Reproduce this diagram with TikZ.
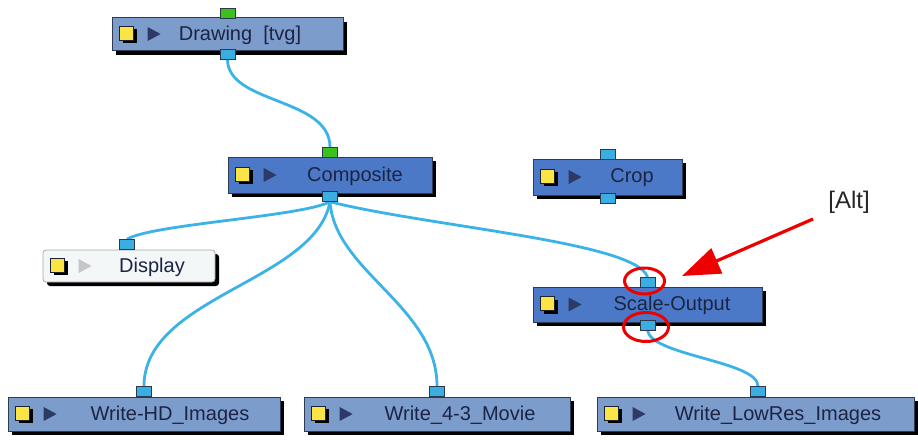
\documentclass[tikz,border=0pt]{standalone}
\usepackage{fontspec}
\setmainfont{Liberation Sans}
\usetikzlibrary{arrows.meta,shadows,calc,shapes.geometric,backgrounds}
\definecolor{lightbox}{HTML}{7C9CCC}
\definecolor{darkbox}{HTML}{4B79C7}
\definecolor{dispbox}{HTML}{F3F7F7}
\definecolor{boxline}{HTML}{2F3B55}
\definecolor{portblue}{HTML}{3AAEE2}
\definecolor{portgreen}{HTML}{3CC01E}
\definecolor{portline}{HTML}{2B3A4A}
\definecolor{wire}{HTML}{3BB3E6}
\definecolor{txt}{HTML}{1C2444}
\definecolor{tri}{HTML}{2E3A66}
\definecolor{yel}{HTML}{FBE446}
\definecolor{alert}{HTML}{EE0000}
\tikzset{
  nodebox/.style={draw=boxline, line width=0.8pt, inner sep=0pt,
    general shadow={fill=black, shadow xshift=4pt, shadow yshift=-4pt}},
  lightfill/.style={fill=lightbox},
  darkfill/.style={fill=darkbox},
  dispfill/.style={fill=dispbox, draw=gray!70, rounded corners=3pt},
  iconsq/.style={draw=boxline!60!black, fill=yel, line width=0.5pt, minimum size=14pt, inner sep=0pt,
    general shadow={fill=black, shadow xshift=3pt, shadow yshift=-3pt}},
  lbl/.style={text=txt, font=\fontsize{20}{24}\selectfont, inner sep=0pt},
  port/.style={draw=portline, fill=portblue, line width=0.8pt, minimum width=15pt, minimum height=10pt, inner sep=0pt},
  gport/.style={port, fill=portgreen},
  wireline/.style={draw=wire, line width=2.8pt},
  ring/.style={draw=alert, line width=3pt, ellipse, inner sep=0pt},
}
% name, cx, cy, w, h, fill style, text x, text, triangle colour
\newcommand\NetNode[9]{%
  \node[nodebox,#6,minimum width=#4pt,minimum height=#5pt] (#1) at (#2,#3) {};
  \node[iconsq] (#1-ic) at ($(#1.west)+(15,-1)$) {};
  \fill[#9] ($(#1.west)+(36,-7)$) -- ($(#1.west)+(36,7)$) -- ($(#1.west)+(49,0)$) -- cycle;
  \node[lbl] (#1-t) at (#7,#3+1) {#8};
}
\begin{document}
\begin{tikzpicture}[x=1pt,y=-1pt]
\useasboundingbox (0,0) rectangle (918,440);

\NetNode{draw}{227.5}{34}{231}{33}{lightfill}{240}{Drawing\ \ [tvg]}{tri}
\NetNode{comp}{330}{175}{204}{36}{darkfill}{355}{Composite}{tri}
\NetNode{crop}{607.5}{177}{149}{36}{darkfill}{632}{Crop}{tri}
\NetNode{disp}{129}{266}{172}{32}{dispfill}{152}{Display}{gray!45}
\NetNode{scale}{647.5}{304.5}{229}{35}{darkfill}{672}{Scale-Output}{tri}
\NetNode{hd}{144}{414}{272}{34}{lightfill}{170}{Write-HD\_Images}{tri}
\NetNode{movie}{437}{414}{266}{34}{lightfill}{460}{Write\_4-3\_Movie}{tri}
\NetNode{low}{755.5}{414}{317}{34}{lightfill}{778}{Write\_LowRes\_Images}{tri}

% ports
\node[gport] (draw-in) at ($(draw.north)+(0,-4)$) {};
\node[port] (draw-out) at ($(draw.south)+(0,3)$) {};
\node[gport] (comp-in) at ($(comp.north)+(0,-4)$) {};
\node[port] (comp-out) at ($(comp.south)+(0,3)$) {};
\node[port] (crop-in) at ($(crop.north)+(0,-4)$) {};
\node[port] (crop-out) at ($(crop.south)+(0,3)$) {};
\node[port] (disp-in) at ($(disp.north)+(-2,-5)$) {};
\node[port] (scale-in) at ($(scale.north)+(0,-4)$) {};
\node[port] (scale-out) at ($(scale.south)+(0,3)$) {};
\node[port] (hd-in) at ($(hd.north)+(0,-5)$) {};
\node[port] (movie-in) at ($(movie.north)+(0,-5)$) {};
\node[port] (low-in) at ($(low.north)+(2.5,-5)$) {};

% wires
\begin{scope}[on background layer]
\draw[wireline] (draw-out.south) .. controls +(0,45) and +(0,-50) .. (comp-in.north);
\draw[wireline] (comp-out.south) .. controls +(-30,15) and +(25,-15) .. (disp-in.north);
\draw[wireline] (comp-out.south) .. controls +(100,25) and +(-10,-35) .. (scale-in.north);
\draw[wireline] (comp-out.south) .. controls +(-15,80) and +(0,-90) .. (hd-in.north);
\draw[wireline] (comp-out.south) .. controls +(5,70) and +(0,-80) .. (movie-in.north);
\draw[wireline] (scale-out.south) .. controls +(5,25) and +(0,-25) .. (low-in.north);
\end{scope}

% highlight
\node[ring, minimum width=40pt, minimum height=26pt] (ring1) at (644.5,281) {};
\node[ring, minimum width=45pt, minimum height=29pt] (ring2) at (646,327) {};
\coordinate (arrtail) at (813,219);
\coordinate (arrtip) at (682,276);
\draw[alert, line width=3.2pt, -{Triangle[length=38pt,width=27pt]}] (arrtail) -- (arrtip);
\node[text=black!85, font=\fontsize{24}{28}\selectfont] (alt) at (849,202) {[Alt]};
\end{tikzpicture}
\end{document}
